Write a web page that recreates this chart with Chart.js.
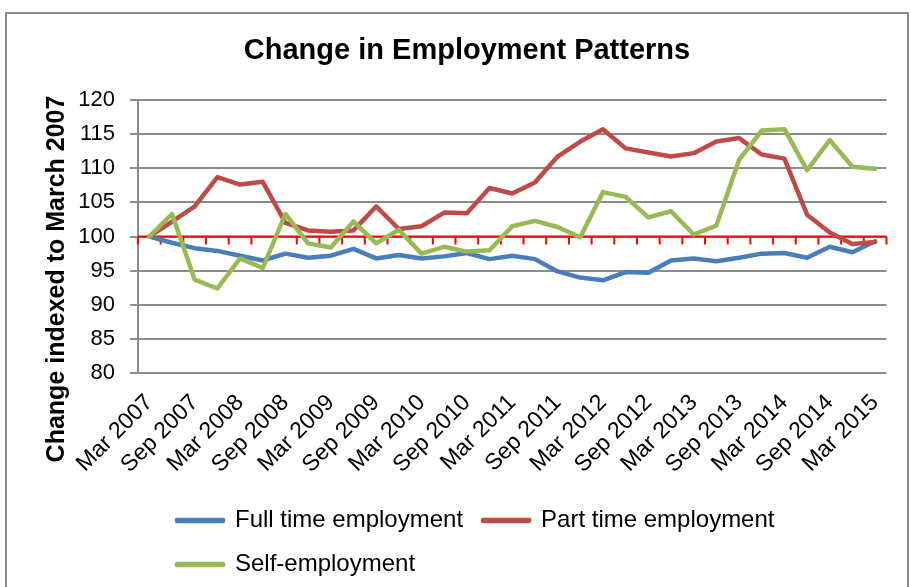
<!DOCTYPE html>
<html>
<head>
<meta charset="utf-8">
<title>Change in Employment Patterns</title>
<script src="https://cdn.jsdelivr.net/npm/chart.js@4.4.1/dist/chart.umd.min.js"></script>
<style>
    html, body { margin: 0; padding: 0; background: #fff; overflow: hidden; }
    .frame {
        position: absolute; left: 5px; top: 12px; width: 904px; height: 620px;
        border: 2px solid #8c8c8c; box-sizing: border-box;
    }
    .chart-box { position: absolute; left: 0; top: 0; width: 911px; height: 587px; }
</style>
</head>
<body>
<div class="frame"></div>
<div class="chart-box"><canvas id="employmentChart"></canvas></div>
<script>
const TITLE = 'Change in Employment Patterns';
const Y_TITLE = 'Change indexed to March 2007';
const BASELINE = 100;

// quarterly index, March 2007 = 100
const quarters = [
    'Mar 2007', 'Jun 2007', 'Sep 2007', 'Dec 2007',
    'Mar 2008', 'Jun 2008', 'Sep 2008', 'Dec 2008',
    'Mar 2009', 'Jun 2009', 'Sep 2009', 'Dec 2009',
    'Mar 2010', 'Jun 2010', 'Sep 2010', 'Dec 2010',
    'Mar 2011', 'Jun 2011', 'Sep 2011', 'Dec 2011',
    'Mar 2012', 'Jun 2012', 'Sep 2012', 'Dec 2012',
    'Mar 2013', 'Jun 2013', 'Sep 2013', 'Dec 2013',
    'Mar 2014', 'Jun 2014', 'Sep 2014', 'Dec 2014',
    'Mar 2015'
];

const fullTime = [
    100, 99.1, 98.3, 97.9, 97.2, 96.5, 97.5, 96.9, 97.2, 98.2, 96.8,
    97.3, 96.8, 97.1, 97.6, 96.7, 97.2, 96.7, 94.9, 94.0, 93.6, 94.8,
    94.7, 96.5, 96.8, 96.4, 96.9, 97.5, 97.6, 96.9, 98.5, 97.7, 99.3
];

const partTime = [
    100, 102.2, 104.4, 108.7, 107.6, 108.0, 102.0, 100.9, 100.7, 100.9, 104.4,
    101.1, 101.5, 103.5, 103.4, 107.1, 106.3, 107.9, 111.7, 113.9, 115.7, 112.9,
    112.3, 111.7, 112.2, 113.9, 114.4, 112.0, 111.4, 103.2, 100.6, 98.9, 99.2
];

const selfEmployed = [
    100, 103.3, 93.7, 92.4, 96.8, 95.4, 103.3, 99.0, 98.4, 102.2, 99.0,
    101.0, 97.5, 98.5, 97.8, 98.0, 101.5, 102.3, 101.4, 99.9, 106.5, 105.8,
    102.8, 103.7, 100.3, 101.6, 111.2, 115.5, 115.7, 109.7, 114.1, 110.2, 109.9
];

const yTicks = { min: 80, max: 120, step: 5 };

Chart.defaults.font.family = '"Liberation Sans", Arial, sans-serif';
Chart.defaults.color = '#000';

// red reference line at 100 with a tick between every quarter
const baselineAxis = {
    id: 'baselineAxis',
    beforeDatasetsDraw(chart) {
        const { ctx, chartArea, scales: { x, y } } = chart;
        const yPos = y.getPixelForValue(BASELINE);
        ctx.save();
        ctx.strokeStyle = '#ff0000';
        ctx.lineWidth = 2;
        ctx.beginPath();
        ctx.moveTo(chartArea.left, yPos);
        ctx.lineTo(chartArea.right, yPos);
        for (let i = 0; i <= quarters.length; i++) {
            const xPos = x.getPixelForValue(i - 0.5);
            ctx.moveTo(xPos, yPos);
            ctx.lineTo(xPos, yPos + 8);
        }
        ctx.stroke();
        ctx.restore();
    }
};

// axis title sits a bit lower than the plot centre, so draw it by hand
const sideTitle = {
    id: 'sideTitle',
    afterDraw(chart) {
        const { ctx } = chart;
        ctx.save();
        ctx.translate(64, 279);
        ctx.rotate(-Math.PI / 2);
        ctx.font = 'bold 25px "Liberation Sans", Arial, sans-serif';
        ctx.fillStyle = '#000';
        ctx.textAlign = 'center';
        ctx.textBaseline = 'alphabetic';
        ctx.fillText(Y_TITLE, 0, 0);
        ctx.restore();
    }
};

// shift title and legend blocks to sit where the frame wants them
const blockOffset = {
    id: 'blockOffset',
    afterLayout(chart) {
        if (chart.titleBlock) {
            chart.titleBlock.left += 23;
            chart.titleBlock.right += 23;
        }
        if (chart.legend) {
            chart.legend.left += 19;
            chart.legend.right += 19;
        }
    }
};

const line = (label, data, color, order) => ({
    label,
    data,
    borderColor: color,
    backgroundColor: color,
    borderWidth: 4.5,
    borderJoinStyle: 'round',
    borderCapStyle: 'round',
    pointRadius: 0,
    tension: 0,
    order
});

new Chart(document.getElementById('employmentChart'), {
    type: 'line',
    data: {
        labels: quarters,
        datasets: [
            line('Full time employment', fullTime, '#4a7ebb', 3),
            line('Part time employment', partTime, '#be4b48', 2),
            line('Self-employment', selfEmployed, '#98b954', 1)
        ]
    },
    options: {
        responsive: true,
        maintainAspectRatio: false,
        animation: false,
        layout: { padding: { top: 13, left: 0, right: 23, bottom: 0.5 } },
        plugins: {
            title: {
                display: true,
                text: TITLE,
                color: '#000',
                font: { size: 29, weight: 'bold' },
                padding: { top: 21, bottom: 31 }
            },
            legend: {
                position: 'bottom',
                align: 'start',
                fullSize: false,
                labels: {
                    boxWidth: 46,
                    boxHeight: 1,
                    padding: 20,
                    color: '#000',
                    font: { size: 24 },
                    sort: (a, b) => a.datasetIndex - b.datasetIndex
                }
            },
            tooltip: { enabled: false }
        },
        scales: {
            x: {
                offset: true,
                grid: { display: false, drawTicks: false },
                border: { display: false },
                ticks: {
                    autoSkip: false,
                    maxRotation: 45,
                    minRotation: 45,
                    padding: 16,
                    color: '#000',
                    font: { size: 23 },
                    callback: function (value, index) {
                        return index % 2 === 0 ? this.getLabelForValue(value) : '';
                    }
                },
                afterFit: (scale) => { scale.height = 115.2; }
            },
            y: {
                min: yTicks.min,
                max: yTicks.max,
                ticks: {
                    stepSize: yTicks.step,
                    padding: 15,
                    color: '#000',
                    font: { size: 22 }
                },
                grid: { color: '#8c8c8c', lineWidth: 2, tickLength: 8 },
                border: { color: '#8c8c8c', width: 2 },
                afterFit: (scale) => { scale.width = 138; }
            }
        }
    },
    plugins: [baselineAxis, sideTitle, blockOffset]
});
</script>
</body>
</html>
